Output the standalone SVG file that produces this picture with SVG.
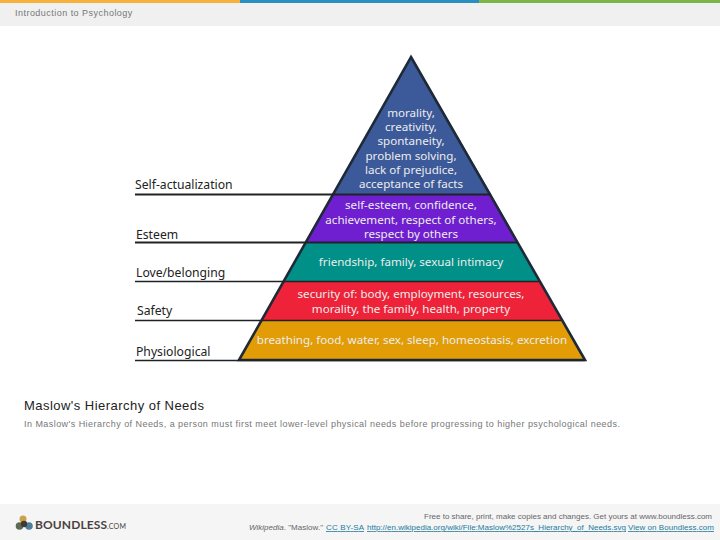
<svg xmlns="http://www.w3.org/2000/svg" width="720" height="540" viewBox="0 0 720 540">
<style>
text{font-family:"Liberation Sans",Arial,sans-serif}
.p{font-family:"Noto Sans","DejaVu Sans",sans-serif;font-size:11.6px;fill:#ececec;text-anchor:middle}
.l{font-family:"Noto Sans","DejaVu Sans",sans-serif;font-size:12.2px;fill:#222}
.r{stroke:#1f2326;stroke-width:2;fill:none}
.t{stroke-width:1.500}
.f{font-size:8px;fill:#666}
.u{font-size:8px;fill:#1f7a99;text-decoration:underline}
</style>
<rect width="720" height="540" fill="#fff"/>
<g id="header">
<rect width="720" height="26" fill="#f0f0f0"/>
<rect width="240" height="3" fill="#f6b13d"/>
<rect x="240" width="239" height="3" fill="#2a8fc0"/>
<rect x="479" width="241" height="3" fill="#7ab648"/>
<text x="15" y="16" font-size="9" letter-spacing=".47" fill="#777">Introduction to Psychology</text>
</g>
<g id="pyramid">
<polygon points="411,56 333,194 491,194" fill="#3c5a9a"/>
<polygon points="333,194 491,194 518,242 305,242" fill="#6f1fd0"/>
<polygon points="305,242 518,242 539,281 284,281" fill="#009088"/>
<polygon points="284,281 539,281 561,320 262,320" fill="#ee2238"/>
<polygon points="262,320 561,320 585,360 239,360" fill="#e29c06"/>
<polygon points="411,57 585,360 239,360" fill="none" stroke="#1f2a38" stroke-width="2.600"/>
</g>
<g id="connectors">
<line class="r" x1="135" y1="194.500" x2="491" y2="194.500"/>
<line class="r" x1="135" y1="242.500" x2="518" y2="242.500"/>
<line class="r t" x1="135" y1="281.500" x2="539" y2="281.500"/>
<line class="r t" x1="135" y1="320.500" x2="561" y2="320.500"/>
<line class="r t" x1="135" y1="360.500" x2="585" y2="360.500"/>
</g>
<g id="level-labels">
<text class="l" x="135" y="189">Self-actualization</text>
<text class="l" x="136" y="239">Esteem</text>
<text class="l" x="136" y="277">Love/belonging</text>
<text class="l" x="137" y="315">Safety</text>
<text class="l" x="136" y="356">Physiological</text>
</g>
<g id="pyramid-text">
<text class="p" x="411" y="117">morality,</text>
<text class="p" x="411" y="131">creativity,</text>
<text class="p" x="411" y="145">spontaneity,</text>
<text class="p" x="411" y="160">problem solving,</text>
<text class="p" x="411" y="174">lack of prejudice,</text>
<text class="p" x="411" y="188">acceptance of facts</text>
<text class="p" x="411" y="209">self-esteem, confidence,</text>
<text class="p" x="411" y="224">achievement, respect of others,</text>
<text class="p" x="411" y="238">respect by others</text>
<text class="p" x="411" y="266">friendship, family, sexual intimacy</text>
<text class="p" x="411" y="298">security of: body, employment, resources,</text>
<text class="p" x="411" y="313">morality, the family, health, property</text>
<text class="p" x="412" y="344">breathing, food, water, sex, sleep, homeostasis, excretion</text>
</g>
<g id="caption">
<text x="24" y="410" font-size="13" textLength="180" fill="#222">Maslow's Hierarchy of Needs</text>
<text x="24" y="427" font-size="9" textLength="596" fill="#777">In Maslow's Hierarchy of Needs, a person must first meet lower-level physical needs before progressing to higher psychological needs.</text>
</g>
<g id="footer">
<rect y="504" width="720" height="36" fill="#f5f5f5"/>
<circle cx="23" cy="519" r="3.500" fill="#c9a24a"/>
<circle cx="19.500" cy="526" r="3.800" fill="#5d6b55"/>
<circle cx="29" cy="526" r="3.800" fill="#4d7f9c"/>
<circle cx="24" cy="524" r="3.200" fill="#3f3a36"/>
<text x="35" y="529" font-size="12" font-weight="700" fill="#4a4240" style="font-family:Lato,sans-serif" textLength="72">BOUNDLESS</text>
<text x="107" y="529" font-size="7" fill="#4a4240" style="font-family:Lato,sans-serif" textLength="19">.COM</text>
<text class="f" x="424" y="519" font-size="8" textLength="288">Free to share, print, make copies and changes. Get yours at www.boundless.com</text>
<text class="f" x="249" y="530" textLength="74"><tspan font-style="italic">Wikipedia</tspan>. "Maslow."</text>
<text class="u" x="326" y="530" textLength="38">CC BY-SA</text>
<text class="u" x="367" y="530" textLength="259">http://en.wikipedia.org/wiki/File:Maslow%2527s_Hierarchy_of_Needs.svg</text>
<text class="u" x="628" y="530" textLength="86">View on Boundless.com</text>
</g>
</svg>
